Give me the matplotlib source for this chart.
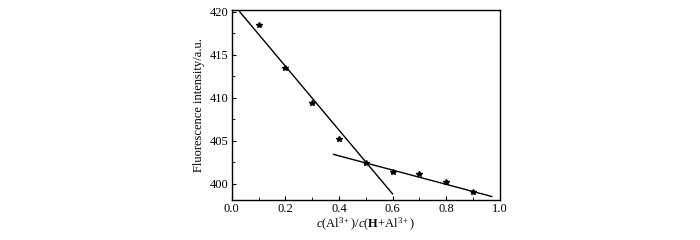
import matplotlib
matplotlib.use("Agg")
import matplotlib.pyplot as plt
from matplotlib.ticker import MultipleLocator

plt.rcParams['font.family'] = ['Liberation Serif', 'DejaVu Serif']
plt.rcParams['mathtext.fontset'] = 'custom'
plt.rcParams['mathtext.rm'] = 'Liberation Serif'
plt.rcParams['mathtext.it'] = 'Liberation Serif:italic'
plt.rcParams['mathtext.bf'] = 'Liberation Serif:bold'

# measured points
ratio = [0.1, 0.2, 0.3, 0.4, 0.5, 0.6, 0.7, 0.8, 0.9]
intensity = [418.5, 413.5, 409.4, 405.2, 402.4, 401.3, 401.1, 400.2, 399.0]

# fitted lines (end points)
fit1_x = [0.03, 0.60]
fit1_y = [420.0, 398.8]
fit2_x = [0.38, 0.97]
fit2_y = [403.4, 398.5]

fig = plt.figure(figsize=(7, 2.4), dpi=100)
ax = fig.add_axes([0.331, 0.167, 0.383, 0.791])

ax.plot(ratio, intensity, '*', color='black', markersize=4)
ax.plot(fit1_x, fit1_y, color='black', linewidth=1)
ax.plot(fit2_x, fit2_y, color='black', linewidth=1)

ax.set_xlim(0, 1.0)
ax.set_ylim(398.1, 420.2)
ax.xaxis.set_major_locator(MultipleLocator(0.2))
ax.xaxis.set_minor_locator(MultipleLocator(0.1))
ax.yaxis.set_major_locator(MultipleLocator(5))
ax.yaxis.set_minor_locator(MultipleLocator(2.5))
ax.xaxis.set_major_formatter(plt.FormatStrFormatter('%.1f'))
ax.tick_params(which='both', direction='in', labelsize=9, pad=2)
ax.tick_params(which='major', length=3)
ax.tick_params(which='minor', length=2)
for s in ax.spines.values():
    s.set_linewidth(1)

ax.set_xlabel(r'$c$(Al$^{3+}$)/$c$($\mathbf{H}$+Al$^{3+}$)', fontsize=9, labelpad=1)
ax.set_ylabel('Fluorescence intensity/a.u.', fontsize=9, labelpad=4)

fig.savefig('out.png', dpi=100)
